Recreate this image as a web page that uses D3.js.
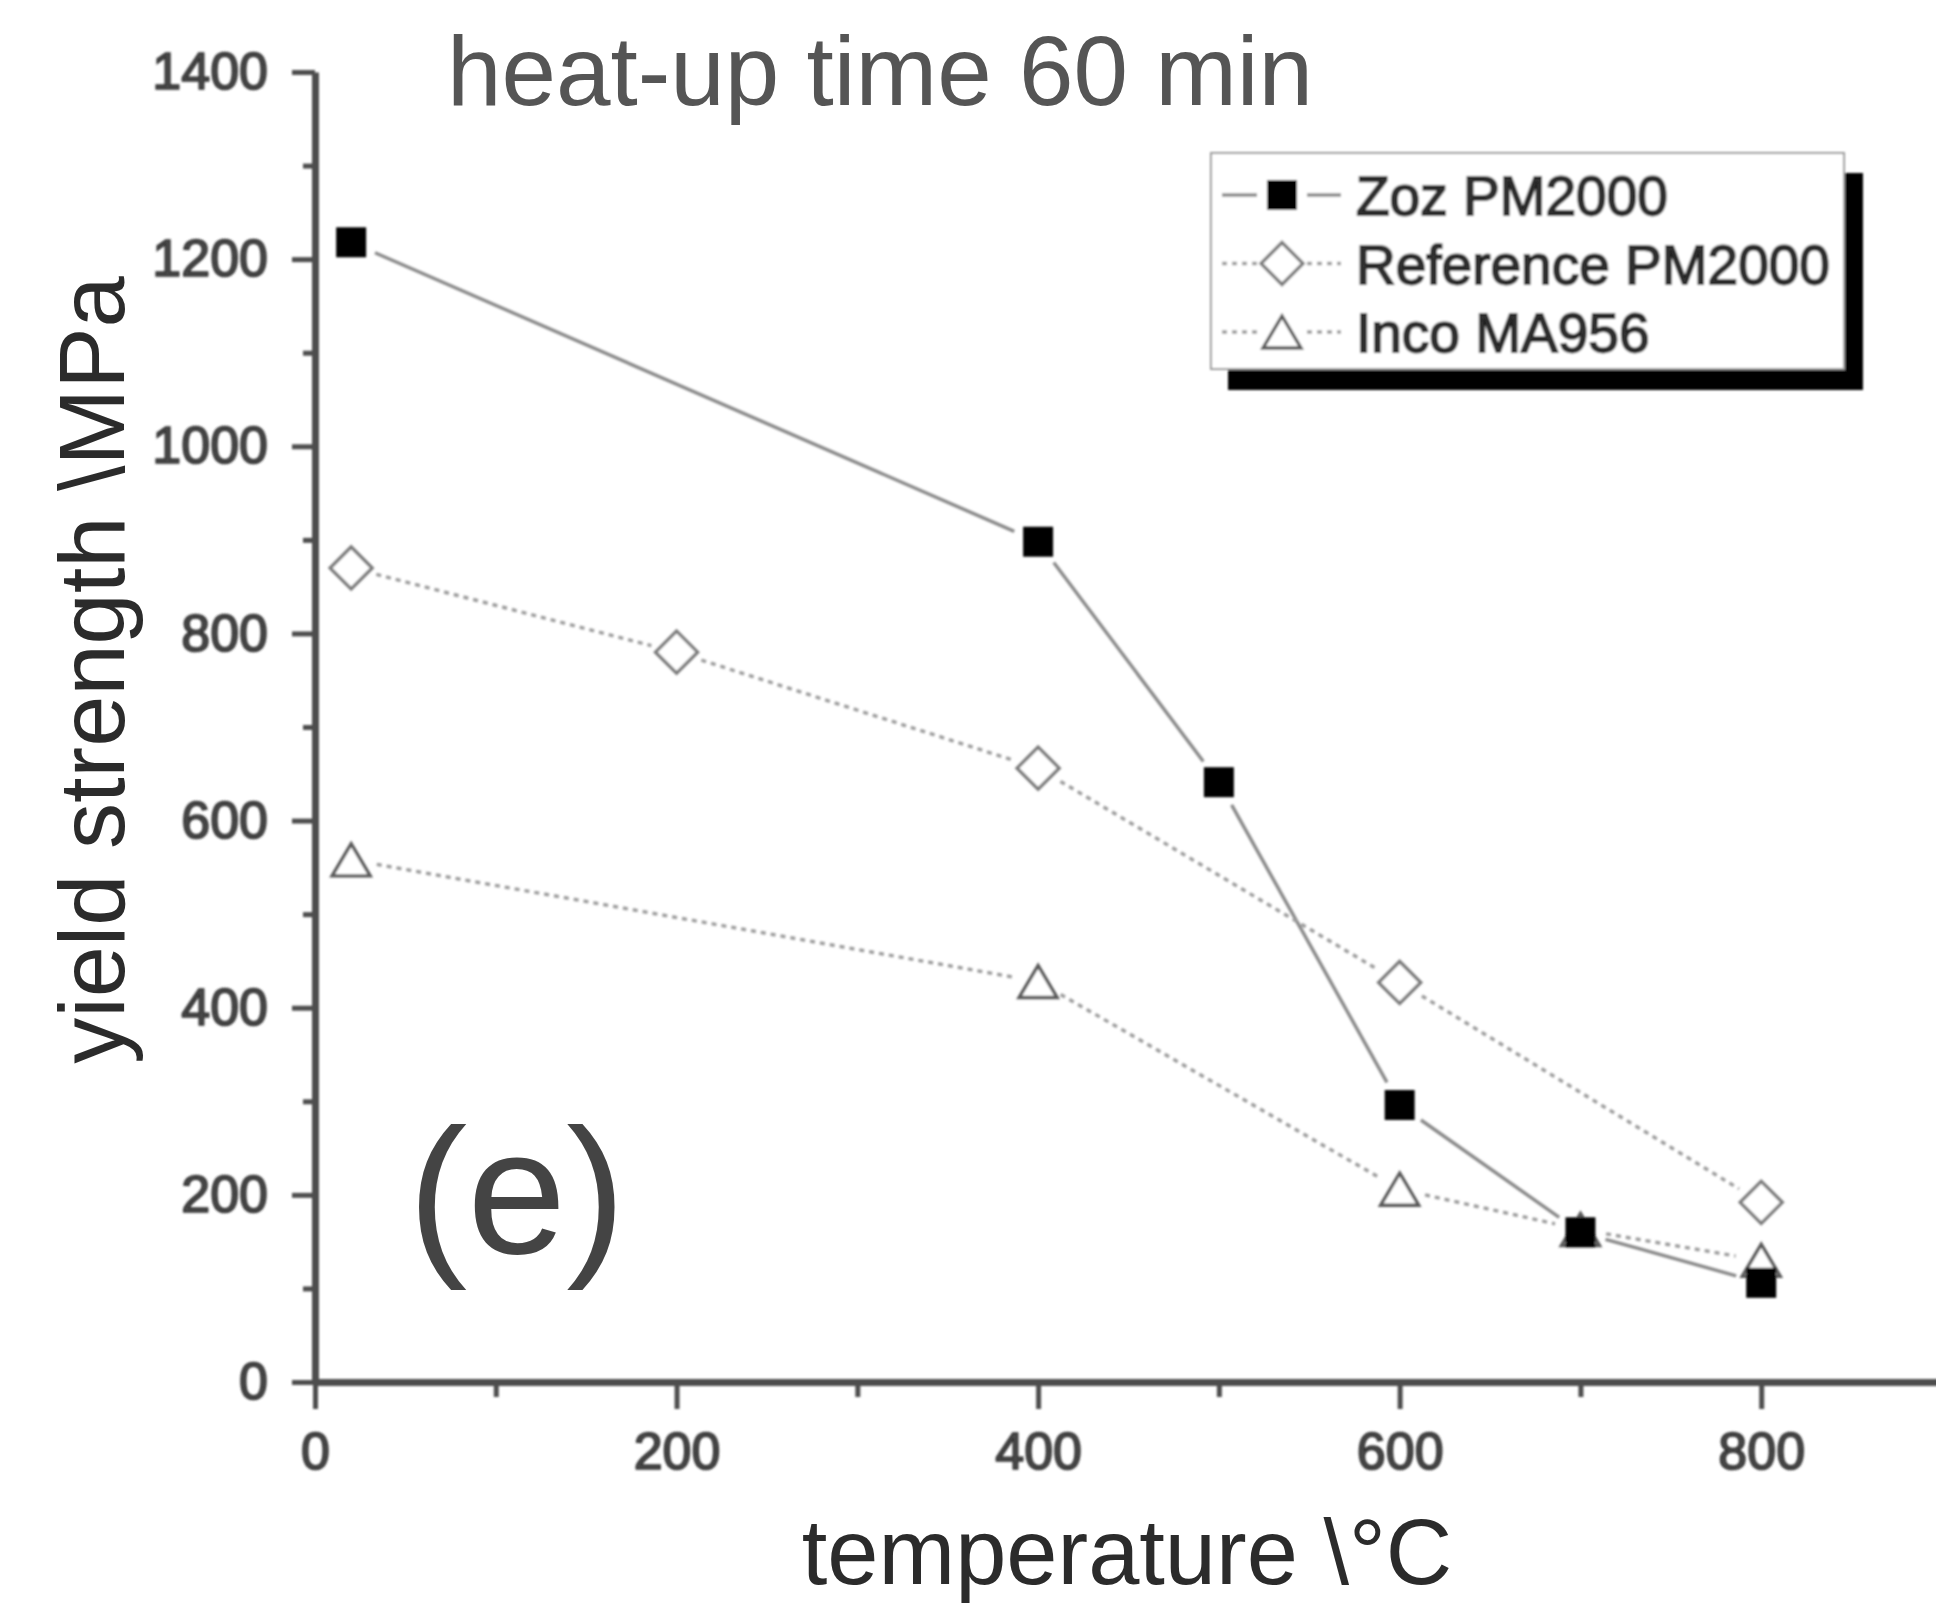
<!DOCTYPE html>
<html>
<head>
<meta charset="utf-8">
<script src="https://cdn.jsdelivr.net/npm/d3@7"></script>
<style>
  html, body { margin: 0; padding: 0; background: #fff; }
  svg { display: block; }
  text { font-family: "Liberation Sans", Arial, sans-serif; }
</style>
</head>
<body>
<svg id="chart" width="1936" height="1617"></svg>
<script>
// Yield strength vs. temperature, heat-up time 60 min
const zozTemps = [20, 400, 500, 600, 700, 800];
const zozValues = [1218, 898, 641, 296, 160, 106];

const refTemps = [20, 200, 400, 600, 800];
const refValues = [870, 780, 656, 427, 192];

const incoTemps = [20, 400, 600, 700, 800];
const incoValues = [558, 428, 206, 163, 130];

const seriesNames = ["Zoz PM2000", "Reference PM2000", "Inco MA956"];
const xMajorTicks = [0, 200, 400, 600, 800];
const xMinorTicks = [100, 300, 500, 700];
const yMajorTicks = [0, 200, 400, 600, 800, 1000, 1200, 1400];
const yMinorTicks = [100, 300, 500, 700, 900, 1100, 1300];

const svg = d3.select("#chart");

const x = d3.scaleLinear().domain([0, 900]).range([315, 1942]);
const y = d3.scaleLinear().domain([0, 1400]).range([1382, 72]);

// soft focus for the plotted figure
const defs = svg.append("defs");
defs.append("filter").attr("id", "soft")
  .attr("x", "-5%").attr("y", "-5%").attr("width", "110%").attr("height", "110%")
  .append("feGaussianBlur").attr("stdDeviation", 1.3);

const plot = svg.append("g").attr("filter", "url(#soft)");

const axisColor = "#4d4d4d";
const fmt = d3.format("d");

// x axis (major + minor)
plot.append("g").attr("transform", `translate(0,${y(0)})`)
  .call(d3.axisBottom(x).tickValues(xMajorTicks).tickFormat(fmt).tickSize(27).tickSizeOuter(0).tickPadding(23));
plot.append("g").attr("transform", `translate(0,${y(0)})`)
  .call(d3.axisBottom(x).tickValues(xMinorTicks).tickSize(15).tickSizeOuter(0).tickFormat(""))
  .call(g => g.select(".domain").remove());

// y axis (major + minor)
plot.append("g").attr("transform", `translate(${x(0)},0)`)
  .call(d3.axisLeft(y).tickValues(yMajorTicks).tickFormat(fmt).tickSize(23).tickSizeOuter(0).tickPadding(24));
plot.append("g").attr("transform", `translate(${x(0)},0)`)
  .call(d3.axisLeft(y).tickValues(yMinorTicks).tickSize(12).tickSizeOuter(0).tickFormat(""))
  .call(g => g.select(".domain").remove());

plot.selectAll(".domain").attr("stroke", axisColor).attr("stroke-width", 7);
plot.selectAll(".tick line").attr("stroke", axisColor).attr("stroke-width", 5);
plot.selectAll(".tick text")
  .attr("fill", "#4a4a4a")
  .attr("stroke", "#2e2e2e")
  .attr("stroke-width", 1.6)
  .style("font-size", "52px")
  .style("font-family", "'Liberation Sans', Arial, sans-serif");

// series styles
const styles = [
  { line: "#8a8a8a", dash: null, marker: "square" },
  { line: "#9c9c9c", dash: "5,5", marker: "diamond" },
  { line: "#9c9c9c", dash: "5,5", marker: "triangle" }
];

function markerPath(kind) {
  if (kind === "square") return "M-15,-15H15V15H-15Z";
  if (kind === "diamond") return "M0,-21L21,0L0,21L-21,0Z";
  return "M0,-16L19,16L-19,16Z";
}

function drawMarker(g, kind, px, py) {
  const p = g.append("path").attr("d", markerPath(kind))
    .attr("transform", `translate(${px},${py})`);
  if (kind === "square") p.attr("fill", "#000");
  else if (kind === "diamond") p.attr("fill", "#fff").attr("stroke", "#7c7c7c").attr("stroke-width", 3.4);
  else p.attr("fill", "#fff").attr("stroke", "#5a5a5a").attr("stroke-width", 3.4);
}

// connecting segments stop short of each marker
const gap = 26;
function drawSegments(g, temps, vals, st) {
  for (let i = 0; i < temps.length - 1; i++) {
    const x1 = x(temps[i]), y1 = y(vals[i]);
    const x2 = x(temps[i + 1]), y2 = y(vals[i + 1]);
    const len = Math.hypot(x2 - x1, y2 - y1);
    const ux = (x2 - x1) / len, uy = (y2 - y1) / len;
    const ln = g.append("line")
      .attr("x1", x1 + ux * gap).attr("y1", y1 + uy * gap)
      .attr("x2", x2 - ux * gap).attr("y2", y2 - uy * gap)
      .attr("stroke", st.line).attr("stroke-width", 3.4);
    if (st.dash) ln.attr("stroke-dasharray", st.dash);
  }
}

const allSeries = [
  { temps: zozTemps, vals: zozValues, st: styles[0] },
  { temps: refTemps, vals: refValues, st: styles[1] },
  { temps: incoTemps, vals: incoValues, st: styles[2] }
];

const lines = plot.append("g");
allSeries.forEach(s => drawSegments(lines, s.temps, s.vals, s.st));

const marks = plot.append("g");
[1, 2, 0].forEach(k => {
  const s = allSeries[k];
  s.temps.forEach((t, i) => drawMarker(marks, s.st.marker, x(t), y(s.vals[i])));
});

// legend with drop shadow
const lg = plot.append("g");
lg.append("rect").attr("x", 1228).attr("y", 173).attr("width", 635).attr("height", 217).attr("fill", "#000");
lg.append("rect").attr("x", 1211).attr("y", 153).attr("width", 633).attr("height", 216)
  .attr("fill", "#fff").attr("stroke", "#9a9a9a").attr("stroke-width", 2);
seriesNames.forEach((name, i) => {
  const cy = 195 + i * 68.5;
  const st = styles[i];
  [[1222, 1257], [1307, 1341]].forEach(([a, b]) => {
    const ln = lg.append("line").attr("x1", a).attr("x2", b).attr("y1", cy).attr("y2", cy)
      .attr("stroke", st.line).attr("stroke-width", 3.4);
    if (st.dash) ln.attr("stroke-dasharray", st.dash);
  });
  drawMarker(lg, st.marker, 1282, cy);
  lg.append("text").attr("x", 1356).attr("y", cy + 20)
    .attr("fill", "#333").attr("stroke", "#1e1e1e").attr("stroke-width", 1.8)
    .style("font-size", "55px").text(name);
});

// crisp annotations
svg.append("text").attr("x", 447).attr("y", 105)
  .attr("fill", "#555").style("font-size", "98px").text("heat-up time 60 min");

svg.append("text").attr("x", 1127).attr("y", 1584).attr("text-anchor", "middle")
  .attr("fill", "#2b2b2b").style("font-size", "92px").text("temperature \\°C");

svg.append("text").attr("transform", "translate(124,670) rotate(-90)").attr("text-anchor", "middle")
  .attr("fill", "#2b2b2b").style("font-size", "92px").text("yield strength \\MPa");

svg.append("text").attr("x", 408).attr("y", 1253)
  .attr("fill", "#444").style("font-size", "178px").text("(e)");
</script>
</body>
</html>
